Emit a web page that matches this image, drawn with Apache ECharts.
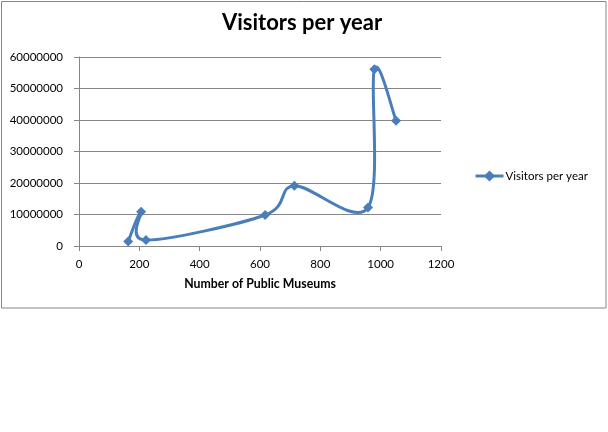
<!DOCTYPE html>
<html>
<head>
<meta charset="utf-8">
<script src="https://cdn.jsdelivr.net/npm/echarts@6/dist/echarts.min.js"></script>
<style>
  html, body { margin: 0; padding: 0; background: #fff; }
  #chart { width: 608px; height: 432px; }
</style>
</head>
<body>
<div id="chart"></div>
<script>
// museums vs visitors
const museums = [163, 206, 222, 617, 714, 958, 979, 1051];
const visitors = [1400000, 10900000, 1900000, 9850000, 19150000, 12200000, 56100000, 39800000];
const seriesName = "Visitors per year";

const chart = echarts.init(document.getElementById("chart"));
const font = "Lato, 'Open Sans', sans-serif";
const gray = "#868686";
const blue = "#4a7ebb";
const points = museums.map((m, i) => [m, visitors[i]]);

// Excel-like smoothed line: cardinal spline in pixel space, one bezier per segment
function renderSegment(params, api) {
    const i = params.dataIndex;
    if (i >= points.length - 1) return null;
    const p = (k) => api.coord(points[Math.max(0, Math.min(points.length - 1, k))]);
    const p0 = p(i - 1), p1 = p(i), p2 = p(i + 1), p3 = p(i + 2);
    const t = 1 / 6;
    const c1 = [p1[0] + (p2[0] - p0[0]) * t, p1[1] + (p2[1] - p0[1]) * t];
    const c2 = [p2[0] - (p3[0] - p1[0]) * t, p2[1] - (p3[1] - p1[1]) * t];
    return {
        type: "bezierCurve",
        shape: { x1: p1[0], y1: p1[1], cpx1: c1[0], cpy1: c1[1], cpx2: c2[0], cpy2: c2[1], x2: p2[0], y2: p2[1] },
        style: { stroke: blue, lineWidth: 3, fill: "none", lineCap: "round" },
        z2: 1,
    };
}

const option = {
    animation: false,
    textStyle: { fontFamily: font },
    graphic: [
        {
            type: "rect",
            shape: { x: 1.5, y: 1.5, width: 604.5, height: 306.5 },
            style: { fill: "none", stroke: gray, lineWidth: 1 },
        },
    ],
    title: {
        text: "Visitors per year",
        left: 222,
        top: 12,
        padding: 0,
        textStyle: { fontFamily: font, fontSize: 22, fontWeight: "bold", color: "#000" },
    },
    legend: {
        left: 474,
        top: 170,
        padding: 0,
        itemWidth: 28,
        itemHeight: 14,
        textStyle: { fontFamily: font, fontSize: 11.5, color: "#000", padding: [0, 0, 0, -3] },
        lineStyle: { color: blue, width: 3, opacity: 1 },
        itemStyle: { color: blue },
        data: [seriesName],
    },
    grid: { left: 79, right: 167, top: 57, bottom: 186 },
    xAxis: {
        type: "value",
        min: 0,
        max: 1200,
        interval: 200,
        name: "Number of Public Museums",
        nameLocation: "middle",
        nameGap: 32,
        nameTextStyle: { fontFamily: font, fontSize: 12.3, fontWeight: "bold", color: "#000" },
        axisLine: { show: true, lineStyle: { color: gray } },
        axisTick: { show: true, length: 5, lineStyle: { color: gray } },
        axisLabel: { color: "#000", fontSize: 11.5, margin: 12, formatter: (v) => String(v) },
        splitLine: { show: false },
    },
    yAxis: {
        type: "value",
        min: 0,
        max: 60000000,
        interval: 10000000,
        axisLine: { show: true, lineStyle: { color: gray } },
        axisTick: { show: true, length: 5, lineStyle: { color: gray } },
        axisLabel: { color: "#000", fontSize: 11.5, margin: 16, formatter: (v) => String(v) },
        splitLine: { show: true, lineStyle: { color: gray } },
    },
    series: [
        {
            name: seriesName,
            type: "line",
            data: points,
            symbol: "diamond",
            symbolSize: 10,
            lineStyle: { color: blue, width: 3, opacity: 0 },
            itemStyle: { color: blue },
            z: 3,
        },
        {
            name: seriesName,
            type: "custom",
            data: points,
            renderItem: renderSegment,
            encode: { x: 0, y: 1 },
            clip: false,
            z: 2,
        },
    ],
};
chart.setOption(option);
</script>
</body>
</html>
